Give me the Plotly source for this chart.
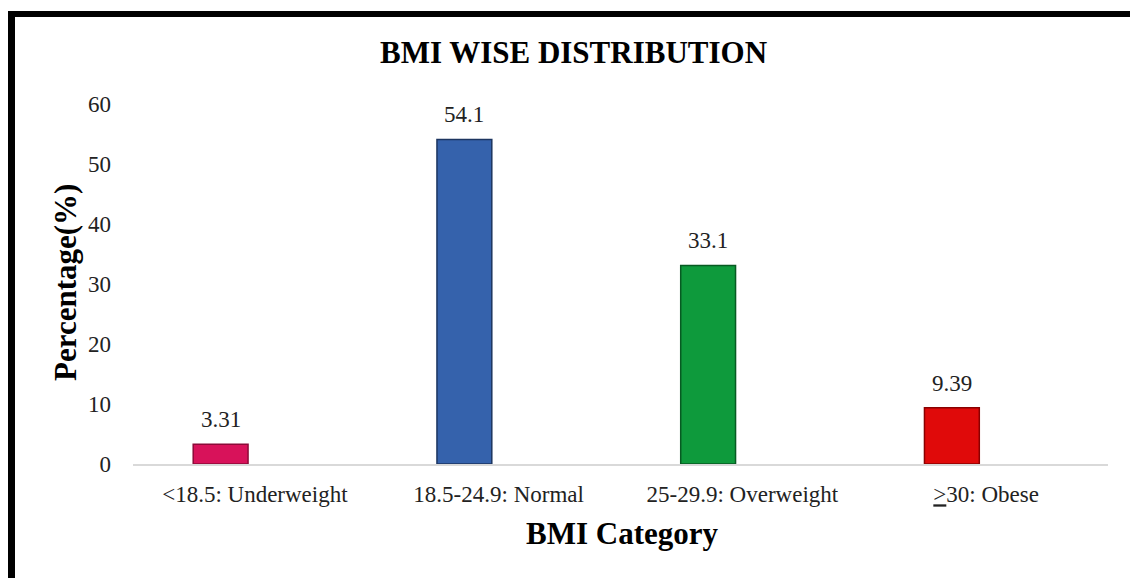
import plotly.graph_objects as go

categories = ["<18.5: Underweight", "18.5-24.9: Normal", "25-29.9: Overweight", "<u>></u>30: Obese"]
values = [3.31, 54.1, 33.1, 9.39]
value_labels = ["3.31", "54.1", "33.1", "9.39"]
colors = ["#D8125A", "#3562AC", "#0E9A3C", "#E00A0A"]
edge_colors = ["#8C0A38", "#1C3560", "#075A22", "#8A0000"]
y_ticks = [0, 10, 20, 30, 40, 50, 60]

FONT = "Liberation Serif, Times New Roman, serif"
W, H = 1130, 578
L, R, T, B = 133, 22, 104, 114
pw, ph = W - L - R, H - T - B

def px_x(px):
    return (px - L) / pw

def px_y(py):
    return (H - B - py) / ph

bar_w = 0.225
bar_off = -0.253
xs = list(range(len(categories)))

fig = go.Figure()
fig.add_trace(go.Bar(
    x=xs, y=values, width=bar_w, offset=bar_off,
    marker=dict(color=colors, line=dict(color=edge_colors, width=1.5)),
    showlegend=False, hoverinfo="skip",
))

annotations = []
for i, (v, t) in enumerate(zip(values, value_labels)):
    annotations.append(dict(x=i + bar_off + bar_w / 2, y=v, xref="x", yref="y", text=t,
                            showarrow=False, yanchor="bottom", yshift=10,
                            font=dict(family=FONT, size=23, color="#222")))
annotations.append(dict(x=px_x(573.5), y=px_y(52), xref="paper", yref="paper", text="<b>BMI WISE DISTRIBUTION</b>",
                        showarrow=False, xanchor="center", yanchor="middle",
                        font=dict(family=FONT, size=31, color="#000")))
annotations.append(dict(x=px_x(622), y=px_y(533), xref="paper", yref="paper", text="<b>BMI Category</b>",
                        showarrow=False, xanchor="center", yanchor="middle",
                        font=dict(family=FONT, size=31, color="#000")))
annotations.append(dict(x=px_x(65), y=px_y(283), xref="paper", yref="paper", text="<b>Percentage(%)</b>",
                        showarrow=False, xanchor="center", yanchor="middle", textangle=-90,
                        font=dict(family=FONT, size=31, color="#000")))

fig.update_layout(
    width=W, height=H,
    margin=dict(l=L, r=R, t=T, b=B),
    paper_bgcolor="white", plot_bgcolor="white",
    annotations=annotations,
    shapes=[
        dict(type="line", xref="paper", yref="paper", x0=px_x(8), x1=px_x(1135), y0=px_y(14), y1=px_y(14),
             line=dict(color="black", width=6)),
        dict(type="line", xref="paper", yref="paper", x0=px_x(11.5), x1=px_x(11.5), y0=px_y(11), y1=px_y(585),
             line=dict(color="black", width=7)),
    ],
    xaxis=dict(range=[-0.5, 3.5], tickvals=xs, ticktext=categories, showgrid=False, zeroline=False,
               showline=True, linecolor="#D9D9D9", linewidth=1.5, ticks="",
               tickfont=dict(family=FONT, size=23, color="#222"), ticklabelstandoff=9),
    yaxis=dict(range=[0, 60], tickvals=y_ticks, showgrid=False, zeroline=False, showline=False,
               ticks="", tickfont=dict(family=FONT, size=23, color="#222"), ticklabelstandoff=21),
)

fig.write_html("out.html")
